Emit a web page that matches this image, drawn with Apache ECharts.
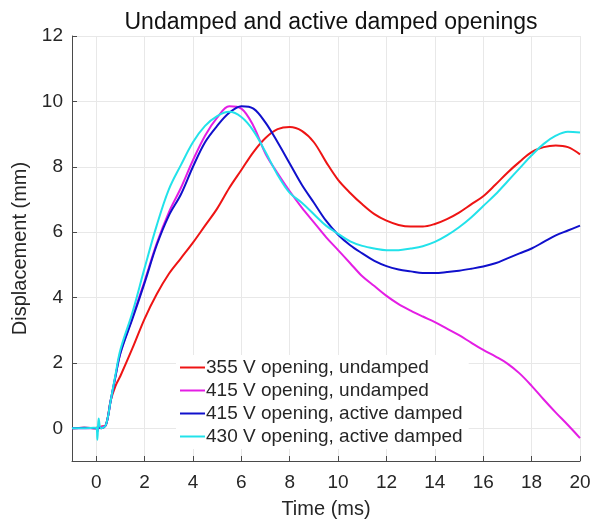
<!DOCTYPE html>
<html>
<head>
<meta charset="utf-8">
<script src="https://cdn.jsdelivr.net/npm/echarts@6/dist/echarts.min.js"></script>
<style>
  html, body { margin: 0; padding: 0; background: #fff; }
  #main { width: 601px; height: 524px; }
</style>
</head>
<body>
<div id="main"></div>
<script>
// time in ms
const time = [-1, -0.5, 0, 0.05, 0.1, 0.2, 0.4, 0.6, 0.8, 1, 1.5, 2, 2.5, 3, 3.5, 4, 4.5, 5, 5.5, 6,
  6.5, 7, 7.5, 8, 8.5, 9, 9.5, 10, 10.5, 11, 11.5, 12, 12.5, 13, 13.5, 14, 14.5, 15, 15.5, 16,
  16.5, 17, 17.5, 18, 18.5, 19, 19.5, 20];

// displacement in mm
const v355undamped = [0, 0.02, 0, 0.03, 0, 0.05, 0.1, 0.85, 1.3, 1.6, 2.45, 3.35, 4.1, 4.72, 5.2, 5.68, 6.2, 6.72, 7.35, 7.9,
  8.45, 8.88, 9.15, 9.22, 9.1, 8.75, 8.15, 7.6, 7.2, 6.85, 6.55, 6.35, 6.22, 6.17, 6.17, 6.25, 6.4, 6.6, 6.85, 7.1,
  7.45, 7.82, 8.15, 8.45, 8.6, 8.65, 8.6, 8.38];
const v415undamped = [0, 0, 0, 0.02, 0, 0.03, 0.1, 0.85, 1.6, 2.3, 3.4, 4.5, 5.65, 6.6, 7.35, 8.2, 8.95, 9.5, 9.85, 9.78,
  9.25, 8.4, 7.8, 7.25, 6.75, 6.3, 5.85, 5.45, 5.05, 4.65, 4.35, 4.05, 3.8, 3.6, 3.42, 3.25, 3.05, 2.85, 2.62, 2.4,
  2.2, 1.98, 1.68, 1.3, 0.88, 0.48, 0.1, -0.3];
const v415damped = [0, 0.02, 0, -0.1, 0.05, 0, 0.1, 0.85, 1.6, 2.3, 3.35, 4.45, 5.6, 6.5, 7.15, 8.0, 8.75, 9.25, 9.65, 9.85,
  9.78, 9.35, 8.75, 8.1, 7.45, 6.9, 6.35, 5.92, 5.6, 5.35, 5.12, 4.96, 4.86, 4.8, 4.75, 4.75, 4.78, 4.82, 4.88, 4.95,
  5.05, 5.2, 5.35, 5.5, 5.7, 5.9, 6.05, 6.2];
const v430damped = [0, 0, 0.02, -0.35, 0.3, 0, 0.1, 0.85, 1.65, 2.4, 3.55, 4.9, 6.2, 7.3, 8.05, 8.75, 9.25, 9.55, 9.68, 9.52,
  9.1, 8.45, 7.75, 7.2, 6.9, 6.55, 6.2, 5.95, 5.72, 5.58, 5.5, 5.45, 5.45, 5.5, 5.57, 5.7, 5.9, 6.15, 6.45, 6.8,
  7.15, 7.55, 7.95, 8.35, 8.7, 8.95, 9.07, 9.05];

const xTicks = [0, 2, 4, 6, 8, 10, 12, 14, 16, 18, 20];
const yTicks = [0, 2, 4, 6, 8, 10, 12];

const names = ['355 V opening, undamped', '415 V opening, undamped',
  '415 V opening, active damped', '430 V opening, active damped'];
const colors = ['#ee1414', '#e41ee4', '#1010cc', '#22e2ea'];
const values = [v355undamped, v415undamped, v415damped, v430damped];

const font = 'Liberation Sans, Arial, sans-serif';
const txt = '#262626';

const chart = echarts.init(document.getElementById('main'), null, { renderer: 'canvas' });

const option = {
  animation: false,
  backgroundColor: '#fff',
  title: {
    text: 'Undamped and active damped openings',
    left: 326,
    textAlign: 'center',
    top: 6,
    textStyle: { fontFamily: font, fontSize: 23, fontWeight: 'normal', color: '#111' }
  },
  grid: { left: 72, right: 21, top: 36, bottom: 61, containLabel: false },
  legend: {
    orient: 'vertical',
    left: 176,
    top: 355,
    padding: [3, 6, 3, 4],
    backgroundColor: '#fff',
    itemWidth: 25,
    itemHeight: 2,
    itemGap: 4,
    icon: 'rect',
    textStyle: { fontFamily: font, fontSize: 19, color: txt, padding: [0, 0, 0, -4] },
    data: names
  },
  xAxis: {
    type: 'value',
    min: -1,
    max: 20,
    name: 'Time (ms)',
    nameLocation: 'middle',
    nameGap: 38,
    nameTextStyle: { fontFamily: font, fontSize: 20, color: txt },
    axisLine: { show: true, onZero: false, lineStyle: { color: '#4a4a4a', width: 1 } },
    axisTick: { show: true, inside: true, length: 5, customValues: xTicks, lineStyle: { color: '#4a4a4a' } },
    axisLabel: { customValues: xTicks, fontFamily: font, fontSize: 19, color: txt, margin: 12 },
    splitLine: { show: true, lineStyle: { color: '#e8e8e8', width: 1 } }
  },
  yAxis: {
    type: 'value',
    min: -1,
    max: 12,
    name: 'Displacement (mm)',
    nameLocation: 'middle',
    nameGap: 36,
    nameTextStyle: { fontFamily: font, fontSize: 20, color: txt },
    axisLine: { show: true, onZero: false, lineStyle: { color: '#4a4a4a', width: 1 } },
    axisTick: { show: true, inside: true, length: 5, customValues: yTicks, lineStyle: { color: '#4a4a4a' } },
    axisLabel: { customValues: yTicks, fontFamily: font, fontSize: 19, color: txt, margin: 9 },
    splitLine: { show: true, lineStyle: { color: '#e8e8e8', width: 1 } }
  },
  series: names.map((n, i) => ({
    name: n,
    type: 'line',
    data: time.map((t, j) => [t, values[i][j]]),
    showSymbol: false,
    smooth: 0.35,
    lineStyle: { color: colors[i], width: 2 },
    itemStyle: { color: colors[i] },
    z: 2 + i
  }))
};

chart.setOption(option);
</script>
</body>
</html>
